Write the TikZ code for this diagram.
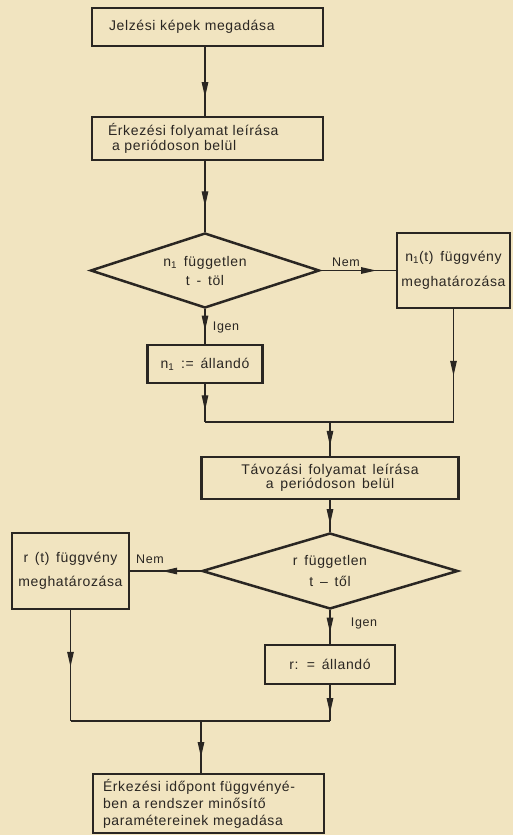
\documentclass[tikz,border=0pt]{standalone}
\usepackage{fontspec}
\setmainfont{Liberation Sans}[LetterSpace=4.5,WordSpace=1.5]
\usetikzlibrary{shapes.geometric,arrows.meta,decorations.markings,calc}
\definecolor{paper}{RGB}{241,228,192}
\definecolor{ink}{RGB}{42,38,34}
\newcommand\lettering[1]{\fontsize{14}{#1}\selectfont}
\newcommand\smalllettering{\fontsize{12.5}{14}\selectfont}
\tikzset{
  boxnode/.style={draw=ink, line width=2.8pt, rectangle, inner sep=0pt, text=ink},
  dianode/.style={draw=ink, line width=2.5pt, diamond, aspect=3, inner sep=0pt, text=ink, align=center},
  conn/.style={draw=ink, line width=1.1pt},
  midarr/.style={conn, postaction={decorate}, decoration={markings, mark=at position #1 with {\arrow{Triangle[length=15pt,width=6.5pt]}}}},
  lbl/.style={text=ink, font=\smalllettering}
}
\begin{document}
\begin{tikzpicture}[x=1pt,y=-1pt]
\fill[paper] (0,0) rectangle (513,835);
\useasboundingbox (0,0) rectangle (513,835);

\node[boxnode, minimum width=231pt, minimum height=38pt, inner xsep=17pt, text width=197pt, align=left, font=\lettering{15pt}] (b1) at (207.5,27) {Jelzési képek megadása};
\node[boxnode, minimum width=231pt, minimum height=43pt, inner xsep=16pt, text width=199pt, align=left, font=\lettering{15pt}] (b2) at (207.5,138.5) {Érkezési folyamat leírása\\\hspace*{4pt}a periódoson belül};
\node[dianode, minimum width=229pt, minimum height=75pt, font=\lettering{19pt}] (d1) at (205,270.5) {n\textsubscript{1} független\\t - töl};
\node[boxnode, minimum width=113pt, minimum height=75pt, align=center, font=\lettering{25pt}] (n1t) at (453.5,270.5) {n\textsubscript{1}(t) függvény\\meghatározása};
\node[boxnode, minimum width=115pt, minimum height=38pt, font=\lettering{15pt}] (n1c) at (205,364) {n\textsubscript{1} := állandó};

\coordinate (m1l) at (205,422);
\coordinate (m1r) at (453.5,422);
\coordinate (m1c) at (330,422);

\node[boxnode, minimum width=257pt, minimum height=42pt, align=center, font=\lettering{14pt}] (b3) at (330,478) {Távozási folyamat leírása\\a periódoson belül};
\node[dianode, minimum width=256pt, minimum height=76pt, font=\lettering{21pt}] (d2) at (330,571) {r független\\t – től};
\node[boxnode, minimum width=117pt, minimum height=76pt, align=center, font=\lettering{24pt}] (rt) at (70.5,571) {r (t) függvény\\meghatározása};
\node[boxnode, minimum width=130pt, minimum height=39pt, font=\lettering{15pt}] (rc) at (330,664.5) {r: = állandó};

\coordinate (m2l) at (70.5,721);
\coordinate (m2r) at (330,721);
\coordinate (m2c) at (201,721);

\node[boxnode, minimum width=231pt, minimum height=59pt, inner xsep=10pt, text width=211pt, align=left, font=\lettering{17pt}] (bl) at (208.5,803.5) {Érkezési időpont függvényé-\\ben a rendszer minősítő\\paramétereinek megadása};

% connectors
\draw[midarr=0.73] (b1.south -| d1.north) -- (b2.north -| d1.north);
\draw[midarr=0.64] (b2.south -| d1.north) -- (d1.north);
\draw[midarr=0.74] (d1.east) -- (n1t.west);
\draw[midarr=0.62] (d1.south) -- (n1c.north);
\draw[midarr=0.69] (n1c.south) -- (m1l);
\draw[midarr=0.59] (n1t.south) -- (m1r);
\draw[conn] (m1l) -- (m1r);
\draw[midarr=0.71] (m1c) -- (b3.north);
\draw[midarr=0.76] (b3.south) -- (d2.north);
\draw[midarr=0.55] (d2.west) -- (rt.east);
\draw[midarr=0.67] (d2.south) -- (rc.north);
\draw[midarr=0.51] (rt.south) -- (m2l);
\draw[midarr=0.78] (rc.south) -- (m2r);
\draw[conn] (m2l) -- (m2r);
\draw[midarr=0.70] (m2c) -- (m2c |- bl.north);

% labels
\node[lbl] (nem1) at (346,262) {Nem};
\node[lbl] (igen1) at (226,327) {Igen};
\node[lbl] (nem2) at (150,559) {Nem};
\node[lbl] (igen2) at (364,623) {Igen};
\end{tikzpicture}
\end{document}
